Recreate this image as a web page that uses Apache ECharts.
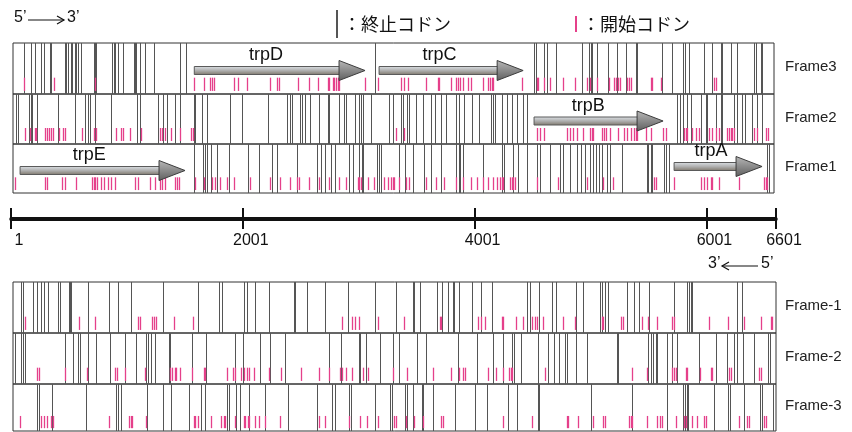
<!DOCTYPE html>
<html><head><meta charset="utf-8">
<script src="https://cdn.jsdelivr.net/npm/echarts@6/dist/echarts.min.js"></script>
<style>html,body{margin:0;padding:0;background:#fff}#c{width:852px;height:432px}</style>
</head><body><div id="c"></div>
<script>
// ---- data (positions in bp) ----
const frameNames = ['Frame3', 'Frame2', 'Frame1', 'Frame-1', 'Frame-2', 'Frame-3'];
const axisTicks = [1, 2001, 4001, 6001, 6601];

const frame3Stops = [113,173,208,260,286,337,346,467,475,493,519,527,553,562,579,605,717,726,734,872,890,898,924,967,1062,1071,1079,1114,1157,1235,1459,1511,3141,4513,4530,4599,4622,4703,4924,4990,5002,5011,5059,5154,5226,5310,5390,5399,5620,5706,5801,5813,5850,5979,6051,6123,6137,6210,6267,6411,6425,6469,6482];
const frame3Starts = [113,369,726,1582,1663,1720,1735,1750,1922,1959,2037,2238,2296,2310,2477,2569,2650,2733,2747,2776,2790,2805,2819,2833,3058,3164,3365,3394,3423,3581,3682,3696,3797,3840,3855,3874,3898,3941,3969,4075,4118,4133,4148,4162,4407,4536,4550,4599,4651,4760,4867,4967,4996,5054,5162,5203,5220,5240,5255,5318,5332,5347,5520,5533,5606,6066,6080];

const frame2Stops = [47,61,154,171,182,228,406,550,642,665,680,728,861,1091,1111,1269,1308,1347,1418,1461,1577,1591,1649,1692,1893,1994,2218,2382,2410,2425,2497,2511,2540,2583,2660,2733,2747,2833,2876,2891,2971,3000,3020,3040,3107,3264,3294,3365,3385,3415,3432,3495,3553,3624,3661,3710,3754,3840,3868,3912,3980,4041,4139,4162,4176,4234,4277,4320,4364,4420,4450,5749,5772,5801,5835,5865,5951,5994,6008,6080,6123,6137,6238,6262,6310,6331,6396,6439,6482];
const frame2Starts = [124,162,205,219,297,314,326,343,363,412,450,469,613,717,737,909,947,967,1025,1125,1284,1304,1332,1384,1461,1556,1568,3322,3394,4536,4565,4599,4795,4823,4852,4881,4938,4996,5011,5024,5097,5117,5134,5168,5240,5289,5313,5347,5375,5390,5404,5476,5520,5628,5649,5807,5821,5835,5878,5908,5936,6023,6051,6080,6109,6180,6195,6210,6224,6238,6411,6439,6512,6531];

const frame1Stops = [1577,1655,1672,1692,1729,1778,1879,2046,2138,2253,2296,2468,2641,2675,2712,2762,2799,2919,2949,3000,3029,3040,3156,3173,3193,3346,3403,3466,3566,3624,3710,3840,3863,3874,3898,4075,4234,4254,4334,4377,4450,4536,4565,4651,4737,4760,4823,4881,4916,4953,4996,5019,5048,5076,5097,5140,5168,5269,5485,5496,5520,5533,5634,5649,5677,6525,6540];
const frame1Starts = [38,297,314,441,464,564,700,717,728,745,780,803,838,861,901,1068,1097,1198,1241,1284,1304,1332,1418,1433,1448,1591,1663,1735,1763,1807,1864,1922,2065,2238,2324,2410,2468,2483,2569,2661,2742,2833,2891,2992,3005,3020,3078,3135,3221,3251,3279,3294,3308,3351,3409,3437,3581,3667,3739,3840,3898,3965,4019,4075,4118,4162,4191,4220,4234,4248,4306,4320,4334,4349,4536,4722,4967,5111,5197,5548,5562,5721,5951,5979,6008,6037,6051,6109,6281,6497,6512,6525];

const frameM1Stops = [90,104,191,228,262,286,320,406,421,499,507,516,665,844,924,1034,1315,1614,1798,1821,2008,2037,2109,2224,2440,2454,2555,2712,2906,3141,3322,3472,3480,3529,3673,3719,3768,3817,3825,3863,3978,4053,4148,4455,4478,4559,4666,4703,4875,4933,5082,5097,5125,5154,5318,5376,5419,5505,5721,5835,5850,5865,5878,6267,6310];
const frameM1Starts = [124,585,728,1097,1111,1217,1235,1254,1404,1568,2856,2943,2971,3006,3164,3394,3702,3710,4032,4053,4090,4234,4248,4358,4420,4493,4522,4536,4593,4760,4867,5097,5111,5261,5278,5447,5496,5577,5706,5721,6023,6187,6325,6469,6555,6569];

const frameM2Stops = [38,90,104,124,469,536,579,594,665,737,852,982,1082,1168,1183,1206,1241,1367,1375,1562,1683,1936,2000,2152,2238,2362,2747,2848,3000,3012,3063,3184,3299,3346,3501,3581,3855,4024,4162,4243,4320,4340,4398,4550,4636,4685,4731,4780,4800,4875,4973,5226,5240,5496,5525,5542,5562,5577,5663,5706,5744,5936,6080,6180,6238,6267,6319,6411,6531,6549];
const frameM2Starts = [228,240,464,659,901,918,982,1160,1375,1390,1413,1424,1461,1562,1663,1677,1864,1913,1931,1988,2008,2037,2057,2095,2229,2333,2505,2655,2742,2839,2856,2891,2943,3035,3078,3299,3415,3639,3797,3863,3903,3920,4118,4185,4243,4300,4312,4320,4608,5361,5485,5706,5721,5735,5821,5835,5945,6037,6051,6195,6210,6454,6469];

const frameM3Stops = [228,240,355,651,909,924,953,1177,1310,1384,1534,1643,1672,1864,1879,1942,1979,2057,2195,2391,2641,2770,2799,2919,2934,3141,3271,3288,3403,3415,3466,3547,3558,3639,3834,4004,4110,4291,4364,4550,4559,5002,5361,5663,5801,5813,5830,5841,6066,6187,6204,6325,6463,6476,6577];
const frameM3Starts = [76,257,286,314,343,363,844,1016,1034,1045,1168,1577,1591,1614,1729,1815,1836,1850,1936,2008,2022,2046,2057,2109,2138,2190,2324,2655,2712,2919,3012,3070,3164,3308,3322,3409,3480,3553,3710,3730,4248,4493,4795,4809,4895,5024,5111,5125,5332,5347,5361,5490,5577,5600,5620,5735,5807,5821,5878,5922,5979,5994,6281,6353,6367,6497,6512];

const geneNames = ['trpE', 'trpD', 'trpC', 'trpB', 'trpA'];
const geneFrames = ['Frame1', 'Frame3', 'Frame3', 'Frame2', 'Frame1'];
const geneStarts = [79, 1582, 3176, 4513, 5721];
const geneEnds = [1502, 3055, 4419, 5626, 6480];

// ---- layout & style ----
const STOP_NAME = '：終止コドン';
const START_NAME = '：開始コドン';
const STOP_COLOR = '#555555';
const START_COLOR = '#e5408a';
const LATIN = 'Liberation Sans, Arial, sans-serif';
const CJK = 'Noto Sans CJK JP, sans-serif';

const STRIPS = [
  {top: 43, height: 51, right: 78, max: 6583},
  {top: 94, height: 50, right: 78, max: 6583},
  {top: 144, height: 49, right: 78, max: 6583},
  {top: 282, height: 51, right: 76, max: 6601},
  {top: 333, height: 51, right: 76, max: 6601},
  {top: 384, height: 47, right: 76, max: 6601}
];
const stopSets = [frame3Stops, frame2Stops, frame1Stops, frameM1Stops, frameM2Stops, frameM3Stops];
const startSets = [frame3Starts, frame2Starts, frame1Starts, frameM1Starts, frameM2Starts, frameM3Starts];
const arrowShift = {trpA: -2}; // px, default +2

const chart = echarts.init(document.getElementById('c'));

const grids = STRIPS.map(s => ({left: 13, right: s.right, top: s.top, height: s.height, show: true,
  borderColor: '#333', borderWidth: 1, backgroundColor: 'rgba(0,0,0,0)'}));
grids.push({left: 11, right: 76, top: 218, height: 1});

const xAxes = STRIPS.map((s, i) => ({gridIndex: i, type: 'value', min: 18, max: s.max, show: false}));
const yAxes = STRIPS.map((s, i) => ({gridIndex: i, type: 'value', min: 0, max: 1, show: false}));
const axisStyle = {lineStyle: {color: '#111', width: 3}};
xAxes.push({gridIndex: 6, type: 'value', min: 1, max: 6601, position: 'bottom',
  splitLine: {show: false}, axisLine: axisStyle,
  axisTick: {customValues: axisTicks, length: 10, lineStyle: {color: '#111', width: 2}},
  axisLabel: {customValues: axisTicks, margin: 14, fontSize: 16, color: '#111', fontFamily: LATIN,
    padding: [0, 0, 0, 16], formatter: v => String(v)}});
xAxes.push({gridIndex: 6, type: 'value', min: 1, max: 6601, position: 'top',
  splitLine: {show: false}, axisLine: axisStyle,
  axisTick: {customValues: axisTicks, length: 10, lineStyle: {color: '#111', width: 2}},
  axisLabel: {show: false}});
yAxes.push({gridIndex: 6, type: 'value', min: 0, max: 1, show: false});

function stopItem(params, api) {
  const p0 = api.coord([api.value(0), 0]);
  const p1 = api.coord([api.value(0), 1]);
  const x = Math.round(p0[0]) + 0.5;
  return {type: 'line', shape: {x1: x, y1: p0[1], x2: x, y2: p1[1]},
    style: {stroke: STOP_COLOR, lineWidth: 1}};
}
function startItem(params, api) {
  const p0 = api.coord([api.value(0), 0.06]);
  const p1 = api.coord([api.value(0), 0.32]);
  const x = Math.round(p0[0]) + 0.5;
  return {type: 'line', shape: {x1: x, y1: p0[1], x2: x, y2: p1[1]},
    style: {stroke: START_COLOR, lineWidth: 1.3}};
}
function arrowItem(params, api) {
  const name = geneNames[api.value(2)];
  const s = api.coord([api.value(0), 0.5]);
  const e = api.coord([api.value(1), 0.5]);
  const yc = s[1] + (arrowShift[name] !== undefined ? arrowShift[name] : 2);
  const headLen = 26, hb = 4, hh = 10;
  const x1 = s[0], x2 = e[0];
  return {type: 'group', children: [
    {type: 'rect', shape: {x: x1, y: yc - hb, width: x2 - headLen - x1 + 1, height: hb * 2},
      style: {fill: new echarts.graphic.LinearGradient(0, 0, 0, 1, [
        {offset: 0, color: '#dde2e6'}, {offset: 0.5, color: '#b0b0b0'}, {offset: 1, color: '#7c7468'}]),
        stroke: '#5a5a5a', lineWidth: 1}},
    {type: 'polygon', shape: {points: [[x2 - headLen, yc - hh], [x2, yc], [x2 - headLen, yc + hh]]},
      style: {fill: new echarts.graphic.LinearGradient(0, 0, 0, 1, [
        {offset: 0, color: '#b8b8b8'}, {offset: 1, color: '#5e5e5e'}]),
        stroke: '#3c3c3c', lineWidth: 1}},
    {type: 'text', style: {x: x1 + 0.42 * (x2 - x1), y: yc - 15, text: name, fill: '#111',
      font: '18px ' + LATIN, align: 'center', verticalAlign: 'middle'}}
  ]};
}

const series = [];
STRIPS.forEach((s, i) => {
  series.push({type: 'custom', name: STOP_NAME, xAxisIndex: i, yAxisIndex: i, clip: false,
    itemStyle: {color: STOP_COLOR}, renderItem: stopItem, silent: true,
    data: stopSets[i].map(v => [v, 0])});
  series.push({type: 'custom', name: START_NAME, xAxisIndex: i, yAxisIndex: i, clip: false,
    itemStyle: {color: START_COLOR}, renderItem: startItem, silent: true,
    data: startSets[i].map(v => [v, 0])});
  const genes = [];
  geneNames.forEach((g, k) => { if (geneFrames[k] === frameNames[i]) genes.push([geneStarts[k], geneEnds[k], k]); });
  if (genes.length) series.push({type: 'custom', name: 'genes', xAxisIndex: i, yAxisIndex: i, clip: false,
    renderItem: arrowItem, silent: true, data: genes});
});

const graphics = [];
STRIPS.forEach((s, i) => {
  graphics.push({type: 'text', left: 785, top: s.top + s.height / 2 - 9,
    style: {text: frameNames[i], fill: '#222', font: '15px ' + LATIN}});
});
function dirArrow(x, y, leftText, rightText, toRight, len) {
  const g = {type: 'group', left: x, top: y - 10, children: []};
  g.children.push({type: 'text', x: 0, y: 0, style: {text: leftText, fill: '#111', font: '16px ' + LATIN}});
  const a0 = 14, a1 = a0 + len;
  g.children.push({type: 'line', shape: {x1: a0, y1: 10, x2: a1, y2: 10}, style: {stroke: '#111', lineWidth: 1.2}});
  const tip = toRight ? a1 : a0, d = toRight ? -7 : 7;
  g.children.push({type: 'polyline', shape: {points: [[tip + d, 6], [tip, 10], [tip + d, 14]]},
    style: {stroke: '#111', lineWidth: 1.2, fill: null}});
  g.children.push({type: 'text', x: a1 + 3, y: 0, style: {text: rightText, fill: '#111', font: '16px ' + LATIN}});
  return g;
}
graphics.push(dirArrow(14, 20, '5’', '3’', true, 36));
graphics.push(dirArrow(708, 266, '3’', '5’', false, 36));

chart.setOption({
  animation: false,
  backgroundColor: '#fff',
  legend: {left: 331, top: 5, itemWidth: 2, itemHeight: 28, itemGap: 124, selectedMode: false,
    symbolKeepAspect: true,
    textStyle: {fontSize: 18, color: '#111', fontFamily: CJK},
    data: [
      {name: STOP_NAME, icon: 'path://M0 0H2V28H0Z', itemStyle: {color: STOP_COLOR}},
      {name: START_NAME, icon: 'path://M0 0H2V16H0Z', itemStyle: {color: START_COLOR}}
    ]},
  grid: grids,
  xAxis: xAxes,
  yAxis: yAxes,
  series: series,
  graphic: graphics
});
</script></body></html>
